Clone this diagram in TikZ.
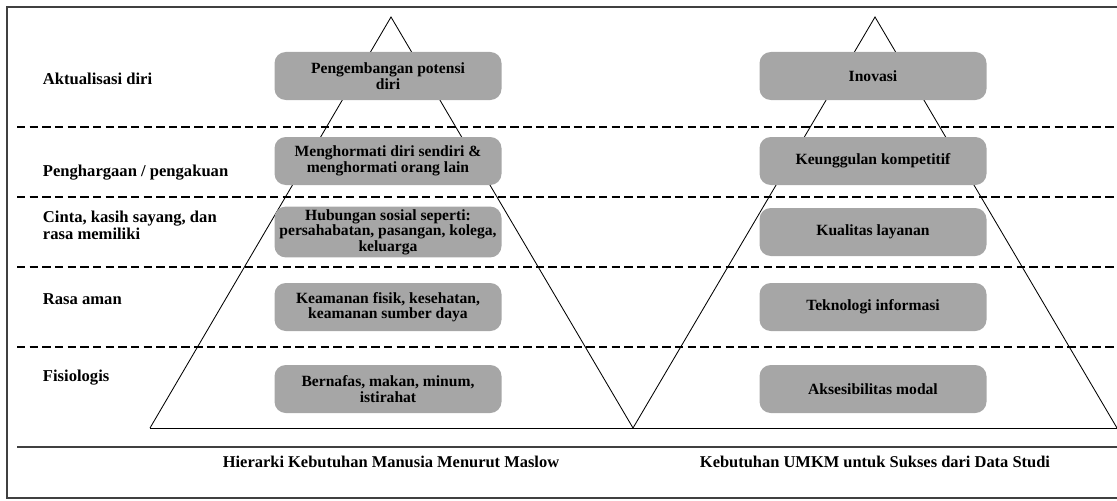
\documentclass[tikz,border=0pt]{standalone}
\usepackage{fontspec}
\setmainfont{Liberation Serif}
\definecolor{box_c}{rgb}{
	0.65, 0.65, 0.65
	}
\definecolor{frame_c}{rgb}{
	0.25, 0.25, 0.25
	}
\usetikzlibrary{positioning}

\begin{document}
\begin{tikzpicture}[
			level/.style = {rounded corners=8pt, fill=box_c, minimum width=5.675cm, minimum height=1.2cm, inner sep=2pt, align=center, font=\fontsize{11.1}{11}\selectfont\bfseries},
			need/.style = {anchor=west, align=left, font=\fontsize{11.8}{12}\selectfont\bfseries},
			caption/.style = {font=\fontsize{11.7}{12}\selectfont\bfseries},
			sep/.style = {line width=1.3pt, dash pattern=on 6pt off 3pt},
			tri/.style = {line width=0.6pt},
			]
			\useasboundingbox (0,0) rectangle (27.925,-12.5);
			% frame
			\draw[frame_c, line width=1.2pt] (27.925,-0.175) -| (0.175,-12.45) -- (27.925,-12.45);
			\draw[frame_c, line width=1.8pt] (0.425,-11.175) -- (27.925,-11.175);
			% levels
			\foreach \y in {-3.175,-4.925,-6.675,-8.675}
				\draw[sep] (0.425,\y) -- (27.925,\y);
			% pyramids
			\coordinate (topL) at (9.775,-0.425);
			\coordinate (topR) at (21.875,-0.425);
			\coordinate (baseA) at (3.75,-10.7);
			\coordinate (baseB) at (15.825,-10.7);
			\coordinate (baseC) at (27.925,-10.7);
			\draw[tri] (baseA) -- (topL) -- (baseB) -- (topR) -- (baseC);
			\draw[tri] (baseA) -- (baseC);
			% needs
			\node[need] (n1) at (0.95,-1.975) {Aktualisasi diri};
			\node[need] (n2) at (0.95,-4.325) {Penghargaan / pengakuan};
			\node[need] (n3) at (0.95,-5.625) {Cinta, kasih sayang, dan\\rasa memiliki};
			\node[need] (n4) at (0.95,-7.475) {Rasa aman};
			\node[need] (n5) at (0.95,-9.45) {Fisiologis};
			% maslow
			\node[level] (m1) at (9.7,-1.9) {Pengembangan potensi\\diri};
			\node[level] (m2) at (9.7,-4.025) {Menghormati diri sendiri \&\\menghormati orang lain};
			\node[level] (m3) at (9.7,-5.8) {Hubungan sosial seperti:\\persahabatan, pasangan, kolega,\\keluarga};
			\node[level] (m4) at (9.7,-7.675) {Keamanan fisik, kesehatan,\\keamanan sumber daya};
			\node[level] (m5) at (9.7,-9.725) {Bernafas, makan, minum,\\istirahat};
			% umkm
			\node[level] (u1) at (21.825,-1.9) {Inovasi};
			\node[level] (u2) at (21.825,-4.025) {Keunggulan kompetitif};
			\node[level] (u3) at (21.825,-5.8) {Kualitas layanan};
			\node[level] (u4) at (21.825,-7.675) {Teknologi informasi};
			\node[level] (u5) at (21.825,-9.725) {Aksesibilitas modal};
			% captions
			\node[caption] (capL) at (9.775,-11.55) {Hierarki Kebutuhan Manusia Menurut Maslow};
			\node[caption] (capR) at (21.875,-11.55) {Kebutuhan UMKM untuk Sukses dari Data Studi};
		\end{tikzpicture}
\end{document}
